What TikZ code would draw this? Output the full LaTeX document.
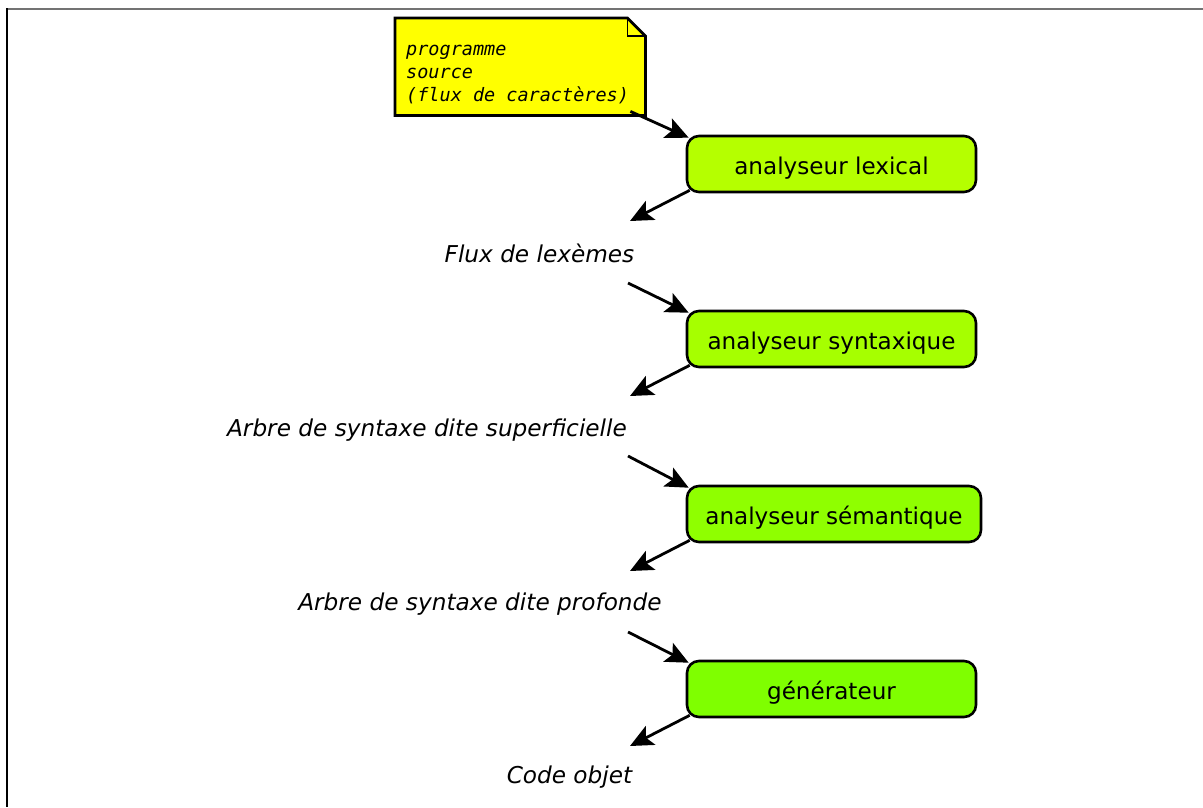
\documentclass[tikz,border=0pt]{standalone}
\usepackage{fontspec}
\setmainfont{DejaVu Sans}
\newfontfamily\notefont{DejaVu Sans Mono}
\usetikzlibrary{arrows.meta}

\definecolor{notefill}{RGB}{255,255,0}
\definecolor{lexfill}{RGB}{181,255,0}
\definecolor{synfill}{RGB}{166,255,0}
\definecolor{semfill}{RGB}{143,255,0}
\definecolor{genfill}{RGB}{127,255,0}

\tikzset{
  stagebox/.style={draw=black, line width=2.6pt, rounded corners=12pt,
    minimum width=289pt, minimum height=56pt, inner sep=0pt,
    text height=23pt, text depth=3pt,
    font=\fontsize{23.1}{27}\selectfont},
  flowlabel/.style={inner sep=0pt, font=\fontsize{23.2}{27}\selectfont\itshape},
  flowarrow/.style={line width=2.8pt,
    -{Stealth[length=23pt, width=21pt, inset=5pt]}},
}

\begin{document}
\begin{tikzpicture}[x=1pt, y=-1pt]
\useasboundingbox (0,0) rectangle (1203,807);

% page frame
\draw[line width=2pt, gray!90!black] (7,9) -- (1203,9);
\draw[line width=2pt, black] (7,8) -- (7,807);

% note with folded corner
\node[minimum width=250pt, minimum height=97pt, inner sep=0pt, anchor=north west] (note) at (395,18) {};
\draw[line width=2.8pt, fill=notefill, line join=miter]
  (note.north west) -- ([xshift=-18pt]note.north east) -- ([yshift=-18pt]note.north east)
  -- (note.south east) -- (note.south west) -- cycle;
\draw[line width=1.2pt]
  ([xshift=-18pt]note.north east) -- ([xshift=-18pt,yshift=-18pt]note.north east)
  -- ([yshift=-18pt]note.north east);
\node[anchor=base west, inner sep=0pt, align=left,
      font=\fontsize{18.5}{23}\notefont\itshape] (notetext) at (406,101)
  {programme\\source\\(flux de caractères)};

% processing stages
\node[stagebox, fill=lexfill] (lex) at (831.5,164) {analyseur lexical};
\node[stagebox, fill=synfill] (syn) at (831.5,339) {analyseur syntaxique};
\node[stagebox, fill=semfill, minimum width=294pt] (sem) at (834,514) {analyseur sémantique};
\node[stagebox, fill=genfill] (gen) at (831.5,689) {générateur};

% intermediate representations
\node[flowlabel] (lexemes) at (539.5,253) {Flux de lexèmes};
\node[flowlabel] (surface) at (427,430) {Arbre de syntaxe dite superficielle};
\node[flowlabel] (deep) at (480,604) {Arbre de syntaxe dite profonde};
\node[flowlabel] (code) at (569.5,777) {Code objet};

% arrow ends next to the representations
\coordinate (lexemesIn) at (630,221);
\coordinate (lexemesOut) at (628,283);
\coordinate (surfaceIn) at (630,396);
\coordinate (surfaceOut) at (628,456);
\coordinate (deepIn) at (630,571);
\coordinate (deepOut) at (628,632);
\coordinate (codeIn) at (630,746);

% data flow
\draw[flowarrow] ([xshift=-15pt,yshift=4pt]note.south east) -- ([xshift=3pt,yshift=-3pt]lex.north west);
\draw[flowarrow] ([xshift=4pt,yshift=3pt]lex.south west) -- (lexemesIn);
\draw[flowarrow] (lexemesOut) -- ([xshift=3pt,yshift=-3pt]syn.north west);
\draw[flowarrow] ([xshift=4pt,yshift=3pt]syn.south west) -- (surfaceIn);
\draw[flowarrow] (surfaceOut) -- ([xshift=3pt,yshift=-3pt]sem.north west);
\draw[flowarrow] ([xshift=4pt,yshift=3pt]sem.south west) -- (deepIn);
\draw[flowarrow] (deepOut) -- ([xshift=3pt,yshift=-3pt]gen.north west);
\draw[flowarrow] ([xshift=4pt,yshift=3pt]gen.south west) -- (codeIn);
\end{tikzpicture}
\end{document}
